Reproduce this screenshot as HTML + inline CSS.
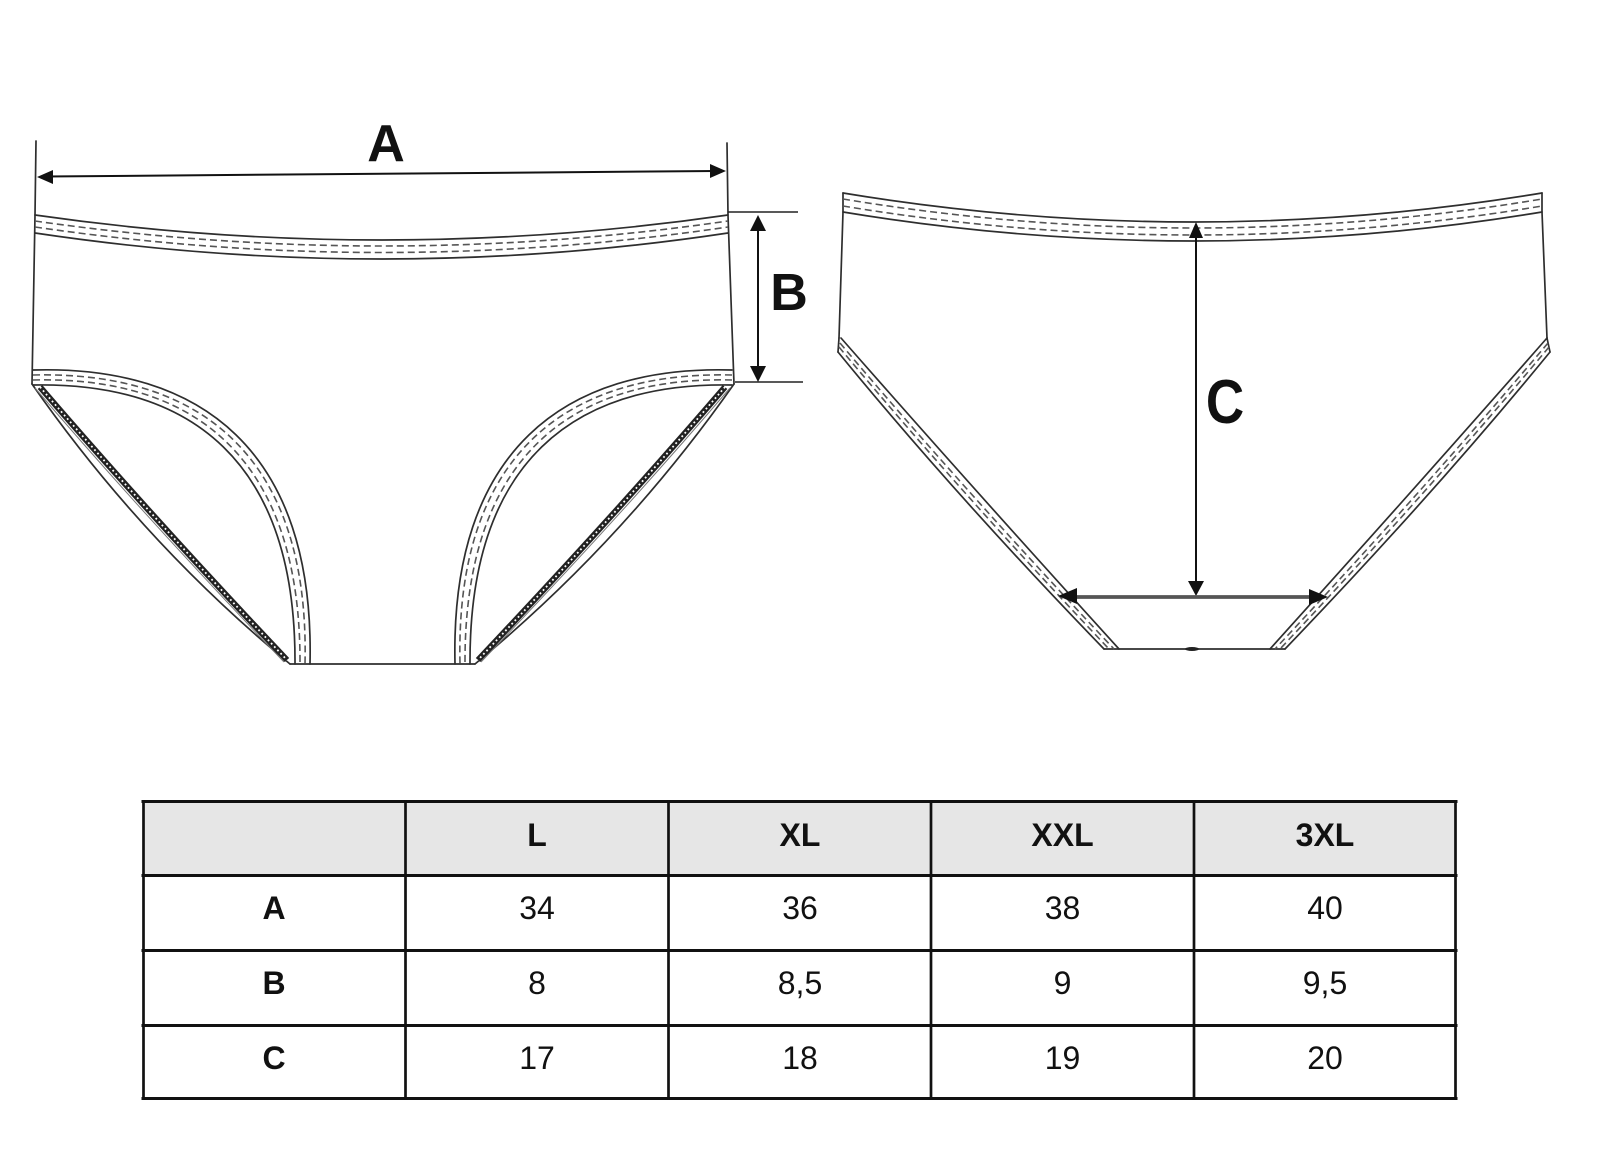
<!DOCTYPE html>
<html>
<head>
<meta charset="utf-8">
<style>
  html,body{margin:0;padding:0;background:#fff;}
  svg{display:block;}
  text{font-family:"Liberation Sans", Arial, sans-serif;}
</style>
</head>
<body>
<svg width="1600" height="1175" viewBox="0 0 1600 1175" xmlns="http://www.w3.org/2000/svg">
  <rect x="0" y="0" width="1600" height="1175" fill="#ffffff"/>

  <!-- ================= FRONT PIECE ================= -->
  <g fill="none" stroke="#2e2e2e" stroke-width="1.7" stroke-linecap="round">
    <path d="M36,141 L35,215 L32,384"/>
    <path d="M727,143 L728,215 L734,384"/>
    <path d="M35,215 Q383,265 728,215"/>
    <path d="M35,233 Q383,285 728,233"/>
    <path d="M33,370 C200,365 315,450 310,664"/>
    <path d="M33,385 C190,382 296,460 295,664"/>
    <path d="M732,370 C565,365 450,450 455,664"/>
    <path d="M732,385 C575,382 469,460 470,664"/>
    <path d="M32,384 Q142,542 290,664"/>
    <path d="M734,384 Q623,542 475,664"/>
    <path d="M290,664 L475,664"/>
  </g>
  <g fill="none" stroke="#555" stroke-width="1.6" stroke-dasharray="7 4">
    <path d="M35,221 Q383,271 728,221"/>
    <path d="M35,227 Q383,278 728,227"/>
    <path d="M33,375 C197,371 310,453 305,664"/>
    <path d="M33,380 C193,376 301,456 300,664"/>
    <path d="M732,375 C568,371 455,453 460,664"/>
    <path d="M732,380 C572,376 464,456 465,664"/>
  </g>
  <!-- lace -->
  <g fill="none">
    <path d="M35,388 Q146,518 284,662" stroke="#777" stroke-width="1"/>
    <path d="M40,387 Q150,515 287,660" stroke="#222" stroke-width="6"/>
    <path d="M40,387 Q150,515 287,660" stroke="#fff" stroke-width="1.8" stroke-dasharray="1.8 2.8"/>
    <path d="M730,388 Q619,518 481,662" stroke="#777" stroke-width="1"/>
    <path d="M725,387 Q615,515 478,660" stroke="#222" stroke-width="6"/>
    <path d="M725,387 Q615,515 478,660" stroke="#fff" stroke-width="1.8" stroke-dasharray="1.8 2.8"/>
  </g>

  <!-- A dimension -->
  <line x1="45" y1="176.5" x2="716" y2="171" stroke="#111" stroke-width="2"/>
  <polygon points="37,177 53,170 53,184" fill="#111"/>
  <polygon points="726,171 710,164 710,178" fill="#111"/>
  <text x="386" y="161" font-size="52" font-weight="bold" text-anchor="middle" fill="#111">A</text>

  <!-- B dimension -->
  <g stroke="#222" stroke-width="1.5">
    <line x1="728" y1="212" x2="798" y2="212"/>
    <line x1="735" y1="382" x2="803" y2="382"/>
    <line x1="758" y1="225" x2="758" y2="372" stroke="#111" stroke-width="2"/>
  </g>
  <polygon points="758,215 750,231 766,231" fill="#111"/>
  <polygon points="758,382 750,366 766,366" fill="#111"/>
  <text x="789" y="310" font-size="52" font-weight="bold" text-anchor="middle" fill="#111">B</text>

  <!-- ================= BACK PIECE ================= -->
  <g fill="none" stroke="#2e2e2e" stroke-width="1.7" stroke-linecap="round">
    <path d="M843,193 Q1194,251 1542,193"/>
    <path d="M843,212 Q1194,270 1542,212"/>
    <path d="M843,193 L843,212 L839,338"/>
    <path d="M1542,193 L1542,212 L1547,338"/>
    <path d="M838,352 Q955,495 1104,649"/>
    <path d="M841,338 Q970,485 1119,649"/>
    <path d="M839,338 L838,352"/>
    <path d="M1550,352 Q1433,495 1285,649"/>
    <path d="M1547,338 Q1418,485 1270,649"/>
    <path d="M1547,338 L1550,352"/>
    <path d="M1104,649 L1285,649"/>
  </g>
  <ellipse cx="1192" cy="649" rx="7" ry="2" fill="#222"/>
  <g fill="none" stroke="#555" stroke-width="1.6" stroke-dasharray="7 4">
    <path d="M843,199 Q1194,257 1542,199"/>
    <path d="M843,206 Q1194,264 1542,206"/>
    <path d="M840,343 Q964,490 1114,649"/>
    <path d="M839,347 Q960,492 1109,649"/>
    <path d="M1548,343 Q1424,490 1275,649"/>
    <path d="M1549,347 Q1428,492 1280,649"/>
  </g>

  <!-- C dimension -->
  <line x1="1196" y1="232" x2="1196" y2="585" stroke="#111" stroke-width="2"/>
  <polygon points="1196,222 1189,238 1203,238" fill="#111"/>
  <polygon points="1196,596 1188,581 1204,581" fill="#111"/>
  <line x1="1070" y1="597" x2="1316" y2="597" stroke="#555" stroke-width="3.8"/>
  <polygon points="1058,596 1077,588 1077,604" fill="#111"/>
  <polygon points="1328,597 1309,589 1309,605" fill="#111"/>
  <text x="0" y="0" font-size="52" font-weight="bold" text-anchor="middle" fill="#111" transform="translate(1225,423) scale(1.02,1.2)">C</text>

  <!-- ================= TABLE ================= -->
  <rect x="143" y="801" width="1313" height="74" fill="#e6e6e6"/>
  <g stroke="#111" stroke-width="3">
    <line x1="141.5" y1="801.5" x2="1457.5" y2="801.5"/>
    <line x1="141.5" y1="875.5" x2="1457.5" y2="875.5"/>
    <line x1="141.5" y1="950.5" x2="1457.5" y2="950.5"/>
    <line x1="141.5" y1="1025.5" x2="1457.5" y2="1025.5"/>
    <line x1="141.5" y1="1098.5" x2="1457.5" y2="1098.5"/>
  </g>
  <g stroke="#111" stroke-width="2.7">
    <line x1="143.5" y1="800" x2="143.5" y2="1100"/>
    <line x1="405.5" y1="800" x2="405.5" y2="1100"/>
    <line x1="668.5" y1="800" x2="668.5" y2="1100"/>
    <line x1="931" y1="800" x2="931" y2="1100"/>
    <line x1="1194" y1="800" x2="1194" y2="1100"/>
    <line x1="1455.5" y1="800" x2="1455.5" y2="1100"/>
  </g>
  <g font-size="32" text-anchor="middle" fill="#111">
    <g font-weight="bold">
      <text x="537" y="846">L</text>
      <text x="800" y="846">XL</text>
      <text x="1062.5" y="846">XXL</text>
      <text x="1325" y="846">3XL</text>
      <text x="274" y="919">A</text>
      <text x="274" y="994">B</text>
      <text x="274" y="1069">C</text>
    </g>
    <text x="537" y="919">34</text>
    <text x="800" y="919">36</text>
    <text x="1062.5" y="919">38</text>
    <text x="1325" y="919">40</text>
    <text x="537" y="994">8</text>
    <text x="800" y="994">8,5</text>
    <text x="1062.5" y="994">9</text>
    <text x="1325" y="994">9,5</text>
    <text x="537" y="1069">17</text>
    <text x="800" y="1069">18</text>
    <text x="1062.5" y="1069">19</text>
    <text x="1325" y="1069">20</text>
  </g>
</svg>
</body>
</html>
